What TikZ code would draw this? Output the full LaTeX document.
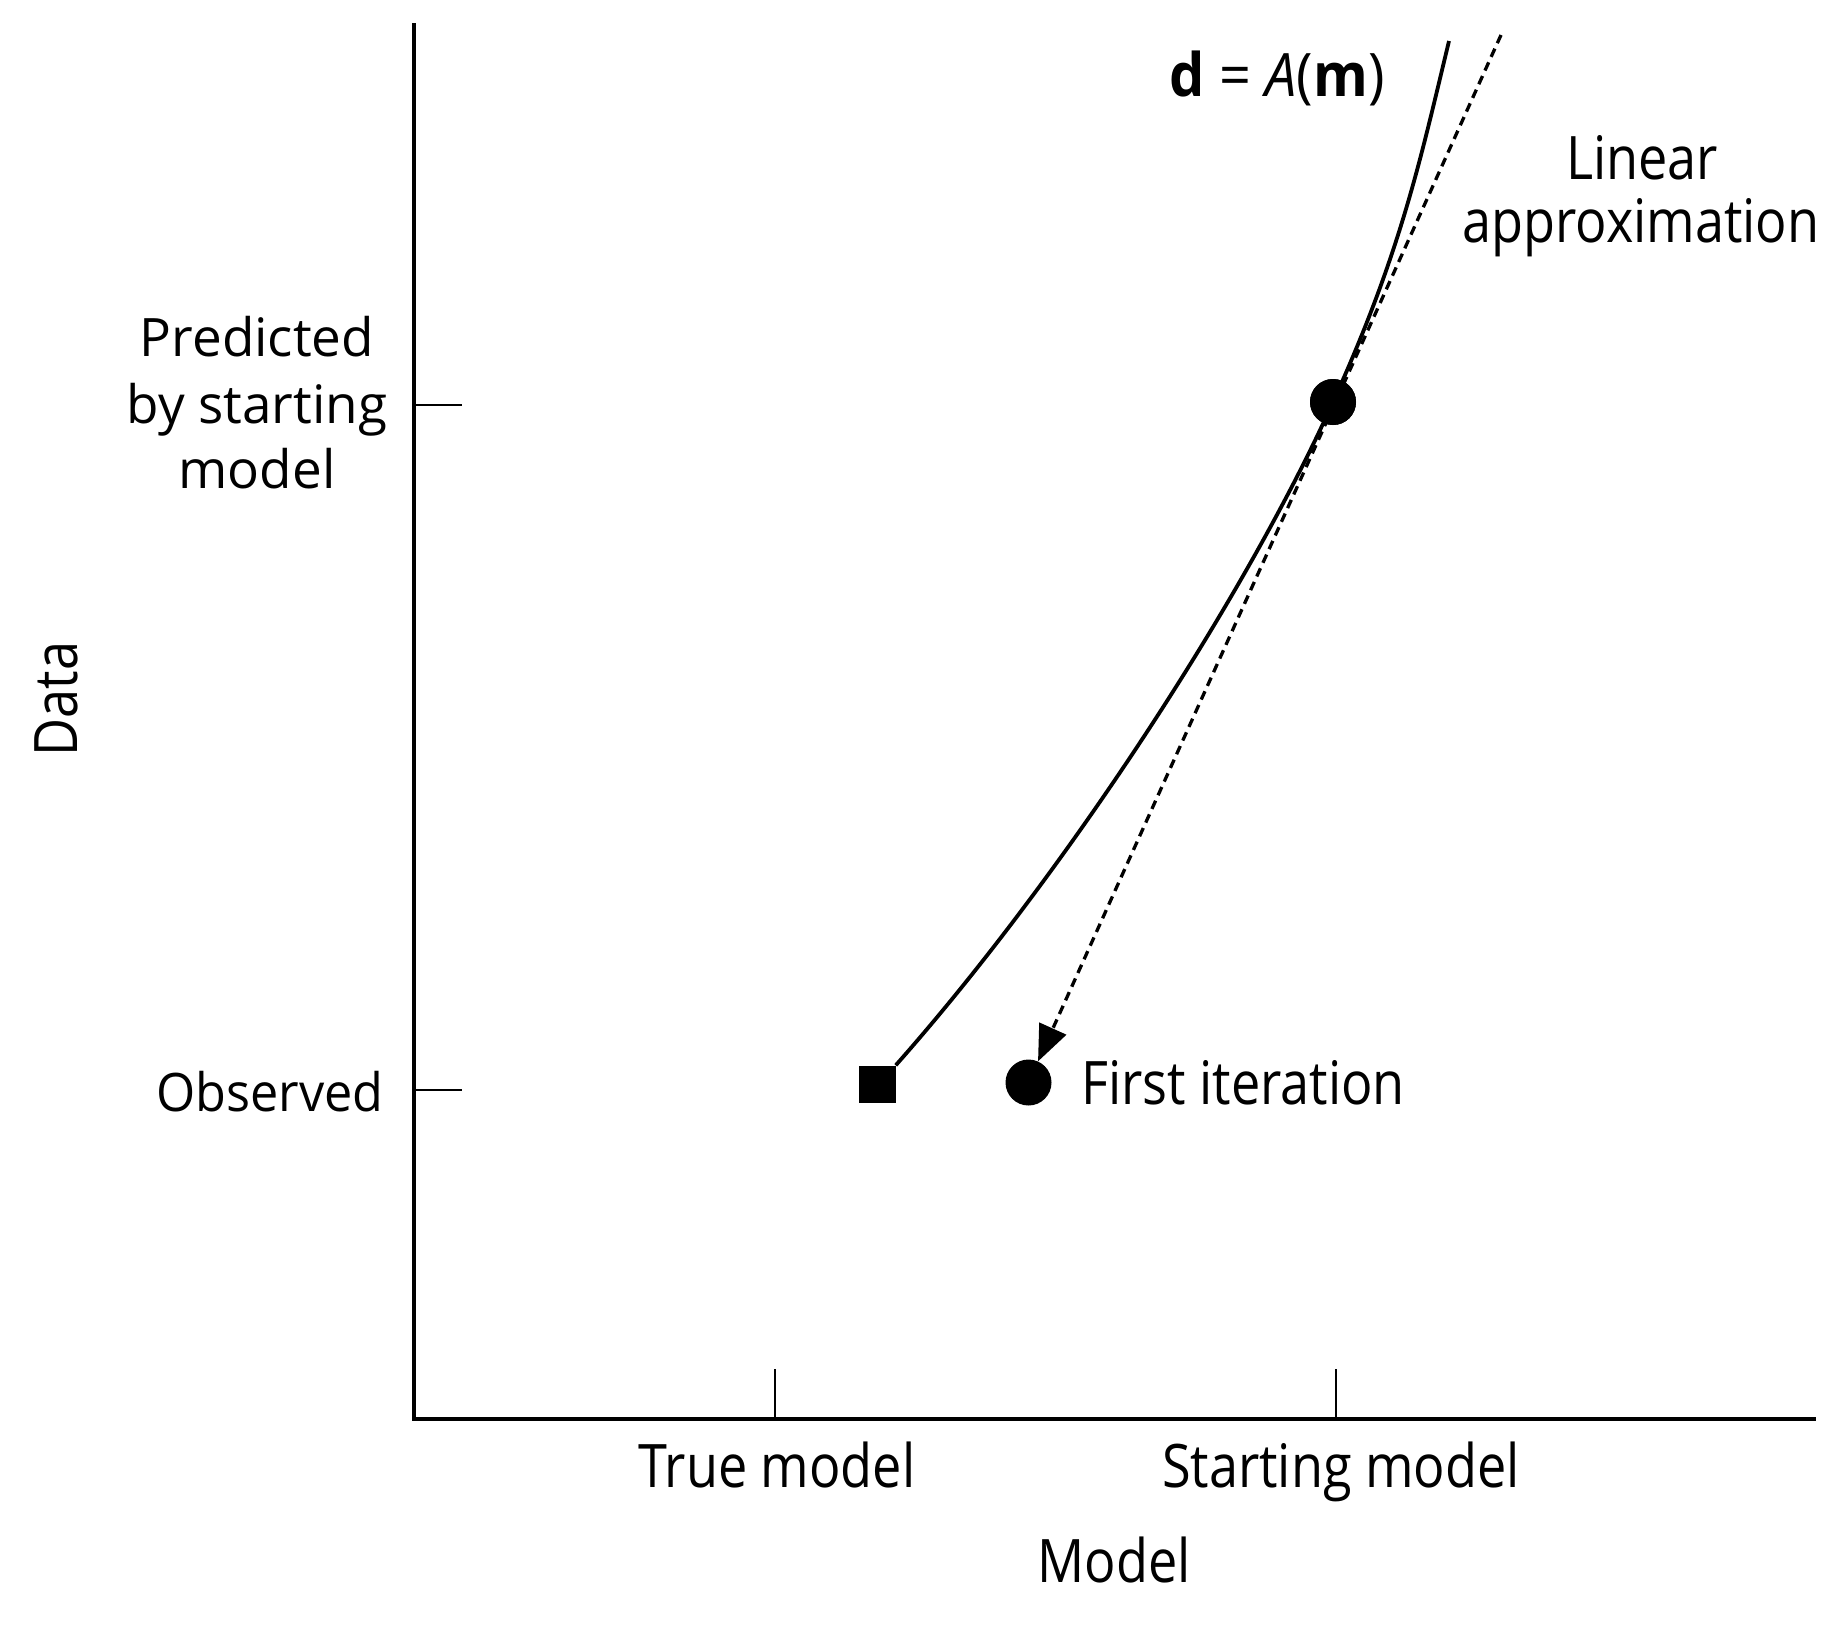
\documentclass[tikz,border=0pt]{standalone}
\usepackage{fontspec}
\setmainfont{Open Sans}
\newfontfamily\narrowfont{Open Sans}[FakeStretch=0.87]
\newfontfamily\eqfont{Open Sans}[FakeStretch=0.93]
\newfontfamily\widefont{Open Sans}
\newfontfamily\obsfont{Open Sans}[FakeStretch=0.95]
\usetikzlibrary{arrows.meta}
\tikzset{
  axisline/.style={line width=4.3pt, line join=miter},
  tickline/.style={line width=2.8pt},
  curveline/.style={line width=3.8pt},
  approxline/.style={line width=3.3pt, dash pattern=on 9pt off 6pt, -{Triangle[length=36pt,width=29pt]}},
  sqmark/.style={rectangle, fill=black, minimum size=37pt, inner sep=0pt},
  dotmark/.style={circle, fill=black, minimum size=46pt, inner sep=0pt},
  nlbl/.style={inner sep=0pt, font=\narrowfont\fontsize{60}{66}\selectfont},
  eqlbl/.style={inner sep=0pt, font=\eqfont\fontsize{60}{66}\selectfont},
  wlbl/.style={inner sep=0pt, font=\widefont\fontsize{53}{66}\selectfont},
  olbl/.style={inner sep=0pt, font=\obsfont\fontsize{53}{66}\selectfont},
}
\begin{document}
\begin{tikzpicture}[x=1pt,y=-1pt]
\useasboundingbox (0,0) rectangle (1843,1625);
% axes
\coordinate (ytop) at (414,23);
\coordinate (orig) at (414,1419);
\coordinate (xend) at (1816,1419);
\draw[axisline] (ytop) -- (orig) -- (xend);
% y ticks
\coordinate (yt1a) at (414,405);
\coordinate (yt1b) at (462,405);
\coordinate (yt2a) at (414,1090);
\coordinate (yt2b) at (462,1090);
\draw[tickline] (yt1a) -- (yt1b);
\draw[tickline] (yt2a) -- (yt2b);
% x ticks
\coordinate (xt1a) at (775,1419);
\coordinate (xt1b) at (775,1369);
\coordinate (xt2a) at (1336,1419);
\coordinate (xt2b) at (1336,1369);
\draw[tickline] (xt1a) -- (xt1b);
\draw[tickline] (xt2a) -- (xt2b);
% markers
\node[sqmark] (truem) at (877,1084) {};
\node[dotmark] (startm) at (1333,402) {};
\node[dotmark] (firstit) at (1028.5,1082.5) {};
% curve d = A(m)
\coordinate (ctop) at (1449,41);
\draw[curveline] (truem.north east) .. controls (1060,880) and (1243,602) .. (startm.center)
  .. controls (1401,252) and (1420,161) .. (ctop);
% linear approximation
\coordinate (latop) at (1501,35);
\draw[approxline] (latop) -- (firstit);
\node[dotmark] (startm2) at (startm) {};
% labels
\node[eqlbl, anchor=base west] (eq) at (1169,96) {\textbf{d} = \textit{A}(\textbf{m})};
\node[nlbl, anchor=base] (lin1) at (1642,179) {Linear};
\node[nlbl, anchor=base] (lin2) at (1641,242) {approximation};
\node[wlbl, anchor=base] (pr1) at (257,356) {Predicted};
\node[wlbl, anchor=base] (pr2) at (257,423) {by starting};
\node[wlbl, anchor=base] (pr3) at (257,488) {model};
\node[olbl, anchor=base east] (obs) at (384,1111) {Observed};
\node[nlbl, rotate=90] (data) at (56,699) {Data};
\node[nlbl, anchor=base] (tml) at (777,1487) {True model};
\node[nlbl, anchor=base] (sml) at (1341,1487) {Starting model};
\node[nlbl, anchor=base] (modl) at (1114,1582) {Model};
\node[nlbl, anchor=base west] (fil) at (1081,1104) {First iteration};
\end{tikzpicture}
\end{document}
